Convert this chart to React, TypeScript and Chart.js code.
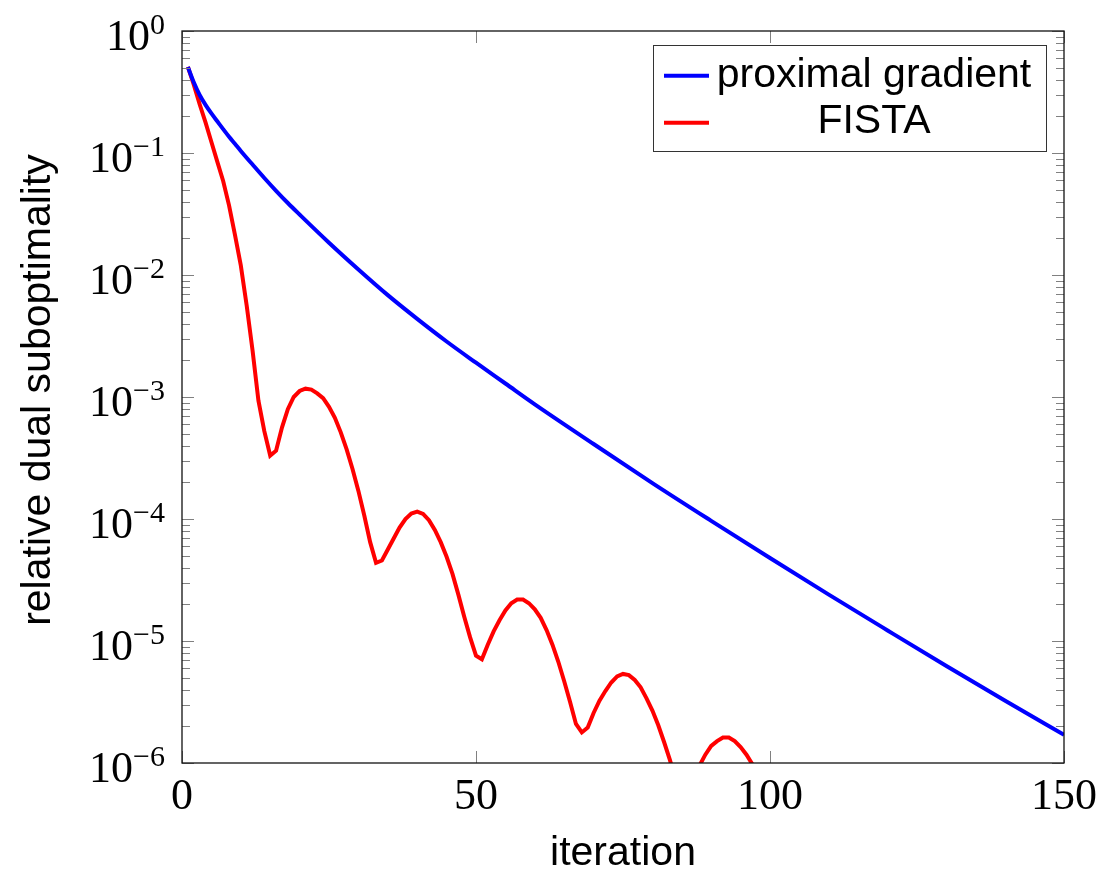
import React, { useEffect, useRef } from "react";
import { Chart, registerables } from "chart.js";

Chart.register(...registerables);

// ---- data ----
const pgIterations = [1, 2, 3, 4, 5, 6, 7, 8, 9, 10, 12, 14, 16, 18, 20, 25, 30, 35, 40, 45, 50, 55, 60, 70, 80, 90, 100, 110, 120, 130, 140, 150];
const proximalGradient = [
  0.507, 0.38, 0.299, 0.248, 0.211, 0.182, 0.157, 0.136, 0.119, 0.104,
  0.0804, 0.0624, 0.049, 0.0389, 0.0313, 0.0184, 0.0111, 0.00684, 0.00437, 0.00285,
  0.00191, 0.00129, 8.71e-4, 4.12e-4, 1.97e-4, 9.66e-5, 4.79e-5, 2.4e-5, 1.22e-5, 6.24e-6,
  3.24e-6, 1.7e-6,
];

const fistaIterations = [
  1, 2, 3, 4, 5, 6, 7, 8, 9, 10, 11, 12, 13, 14, 15, 16, 17, 18, 19, 20, 21, 22, 23, 24, 25, 26, 27, 28, 29, 30,
  31, 32, 33, 34, 35, 36, 37, 38, 39, 40, 41, 42, 43, 44, 45, 46, 47, 48, 49, 50, 51, 52, 53, 54, 55, 56, 57, 58, 59, 60,
  61, 62, 63, 64, 65, 66, 67, 68, 69, 70, 71, 72, 73, 74, 75, 76, 77, 78, 79, 80, 81, 82, 83, 84, 85, 86, 87, 88, 89, 90,
  91, 92, 93, 94, 95, 96, 97, 98, 99, 100,
];
const fista = [
  0.507, 0.363, 0.251, 0.178, 0.123, 0.0851, 0.0589, 0.0372, 0.0214, 0.012,
  0.00562, 0.0024, 9.33e-4, 5.25e-4, 3.31e-4, 3.63e-4, 5.62e-4, 7.94e-4, 1.0e-3, 1.12e-3,
  1.17e-3, 1.15e-3, 1.07e-3, 9.77e-4, 8.32e-4, 6.76e-4, 5.13e-4, 3.72e-4, 2.57e-4, 1.7e-4,
  1.07e-4, 6.46e-5, 4.37e-5, 4.57e-5, 5.62e-5, 6.92e-5, 8.51e-5, 1.0e-4, 1.11e-4, 1.15e-4,
  1.1e-4, 9.77e-5, 8.13e-5, 6.46e-5, 4.9e-5, 3.55e-5, 2.4e-5, 1.58e-5, 1.07e-5, 7.59e-6,
  7.08e-6, 9.33e-6, 1.2e-5, 1.48e-5, 1.78e-5, 2.04e-5, 2.19e-5, 2.19e-5, 2.04e-5, 1.82e-5,
  1.55e-5, 1.23e-5, 9.33e-6, 6.76e-6, 4.68e-6, 3.16e-6, 2.09e-6, 1.78e-6, 1.95e-6, 2.57e-6,
  3.24e-6, 3.89e-6, 4.57e-6, 5.13e-6, 5.37e-6, 5.25e-6, 4.79e-6, 4.17e-6, 3.39e-6, 2.69e-6,
  2.04e-6, 1.48e-6, 1.05e-6, 7.08e-7, 5.01e-7, 4.2e-7, 6.3e-7, 9.5e-7, 1.17e-6, 1.38e-6,
  1.51e-6, 1.62e-6, 1.62e-6, 1.51e-6, 1.35e-6, 1.17e-6, 9.77e-7, 7.59e-7, 5.62e-7, 3.98e-7,
];

const xTickValues = [0, 50, 100, 150];
const xTickLabels = ["0", "50", "100", "150"];
const yDecadeExponents = [0, -1, -2, -3, -4, -5, -6];
const yMinorMultipliers = [2, 3, 4, 5, 6, 7, 8, 9];

const seriesLabels = ["proximal gradient", "FISTA"];
const xTitle = "iteration";
const yTitle = "relative dual suboptimality";

const SERIF = '"Liberation Serif", "DejaVu Serif", serif';
const SANS = '"Liberation Sans", Arial, sans-serif';

const decorPlugin = {
  id: "pgfDecor",
  afterDraw(chart: any) {
    const ctx = chart.ctx as CanvasRenderingContext2D;
    const xs = chart.scales.x;
    const ys = chart.scales.y;
    const a = chart.chartArea;
    ctx.save();

    // tick marks (inside, both sides)
    ctx.strokeStyle = "#808080";
    ctx.lineWidth = 1;
    ctx.beginPath();
    for (const e of yDecadeExponents) {
      const y = Math.round(ys.getPixelForValue(Math.pow(10, e))) + 0.5;
      ctx.moveTo(a.left, y);
      ctx.lineTo(a.left + 12, y);
      ctx.moveTo(a.right, y);
      ctx.lineTo(a.right - 12, y);
      if (e > -6) {
        for (const m of yMinorMultipliers) {
          const ym = Math.round(ys.getPixelForValue(m * Math.pow(10, e - 1))) + 0.5;
          ctx.moveTo(a.left, ym);
          ctx.lineTo(a.left + 8, ym);
          ctx.moveTo(a.right, ym);
          ctx.lineTo(a.right - 8, ym);
        }
      }
    }
    for (const v of xTickValues) {
      const x = Math.round(xs.getPixelForValue(v)) + 0.5;
      ctx.moveTo(x, a.bottom);
      ctx.lineTo(x, a.bottom - 12);
      ctx.moveTo(x, a.top);
      ctx.lineTo(x, a.top + 12);
    }
    ctx.stroke();

    // frame
    ctx.strokeStyle = "#111";
    ctx.lineWidth = 1.3;
    ctx.strokeRect(a.left, a.top, a.right - a.left, a.bottom - a.top);

    // y tick labels 10^k
    ctx.fillStyle = "#000";
    ctx.textAlign = "left";
    ctx.textBaseline = "alphabetic";
    const rightEdge = a.left - 17;
    for (const e of yDecadeExponents) {
      const y = ys.getPixelForValue(Math.pow(10, e));
      const sup = e === 0 ? "0" : "\u2212" + String(-e);
      ctx.font = `30px ${SERIF}`;
      const supW = ctx.measureText(sup).width;
      ctx.fillText(sup, rightEdge - supW, y + 3);
      ctx.font = `44px ${SERIF}`;
      const w10 = ctx.measureText("10").width;
      ctx.fillText("10", rightEdge - supW - w10, y + 19);
    }

    // x tick labels
    ctx.font = `44px ${SERIF}`;
    ctx.textAlign = "center";
    xTickValues.forEach((v, i) => {
      ctx.fillText(xTickLabels[i], xs.getPixelForValue(v), a.bottom + 46);
    });

    // axis titles
    ctx.font = `41px ${SANS}`;
    ctx.textAlign = "center";
    ctx.fillText(xTitle, (a.left + a.right) / 2, 865);
    ctx.save();
    ctx.translate(50, 390);
    ctx.rotate(-Math.PI / 2);
    ctx.fillText(yTitle, 0, 0);
    ctx.restore();

    // legend
    const lx = 653.5, ly = 45.5, lw = 393, lh = 106;
    ctx.fillStyle = "#fff";
    ctx.fillRect(lx, ly, lw, lh);
    ctx.strokeStyle = "#333";
    ctx.lineWidth = 1;
    ctx.strokeRect(lx, ly, lw, lh);
    const rows = [
      { lineY: 75.7, baseY: 87 },
      { lineY: 122.7, baseY: 133 },
    ];
    chart.data.datasets.forEach((ds: any, i: number) => {
      ctx.strokeStyle = ds.borderColor;
      ctx.lineWidth = 4;
      ctx.beginPath();
      ctx.moveTo(664, rows[i].lineY);
      ctx.lineTo(709, rows[i].lineY);
      ctx.stroke();
      ctx.fillStyle = "#000";
      ctx.font = `41px ${SANS}`;
      ctx.textAlign = "center";
      ctx.fillText(ds.label, 874, rows[i].baseY);
    });

    ctx.restore();
  },
};

export default function App() {
  const ref = useRef<HTMLCanvasElement | null>(null);

  useEffect(() => {
    document.body.style.margin = "0";
    const canvas = ref.current;
    if (!canvas) return;
    const chart = new Chart(canvas, {
      type: "line",
      data: {
        datasets: [
          {
            label: seriesLabels[0],
            data: pgIterations.map((x, i) => ({ x, y: proximalGradient[i] })),
            borderColor: "#0000ff",
            backgroundColor: "#0000ff",
            borderWidth: 4,
            pointRadius: 0,
            cubicInterpolationMode: "monotone",
            fill: false,
          },
          {
            label: seriesLabels[1],
            data: fistaIterations.map((x, i) => ({ x, y: fista[i] })),
            borderColor: "#ff0000",
            backgroundColor: "#ff0000",
            borderWidth: 4,
            pointRadius: 0,
            tension: 0,
            fill: false,
          },
        ],
      },
      options: {
        animation: false,
        responsive: false,
        maintainAspectRatio: false,
        layout: { padding: { top: 31, right: 38, left: 0, bottom: 0 } },
        plugins: { legend: { display: false }, tooltip: { enabled: false } },
        scales: {
          x: {
            type: "linear",
            min: 0,
            max: 150,
            ticks: { display: false },
            grid: { display: false },
            border: { display: false },
            afterFit(s: any) {
              s.height = 107;
            },
          },
          y: {
            type: "logarithmic",
            min: 1e-6,
            max: 1,
            ticks: { display: false },
            grid: { display: false },
            border: { display: false },
            afterFit(s: any) {
              s.width = 182;
            },
          },
        },
      },
      plugins: [decorPlugin],
    } as any);
    return () => chart.destroy();
  }, []);

  return (
    <div style={{ width: 1102, height: 870, background: "#fff" }}>
      <canvas ref={ref} width={1102} height={870} style={{ display: "block" }} />
    </div>
  );
}
